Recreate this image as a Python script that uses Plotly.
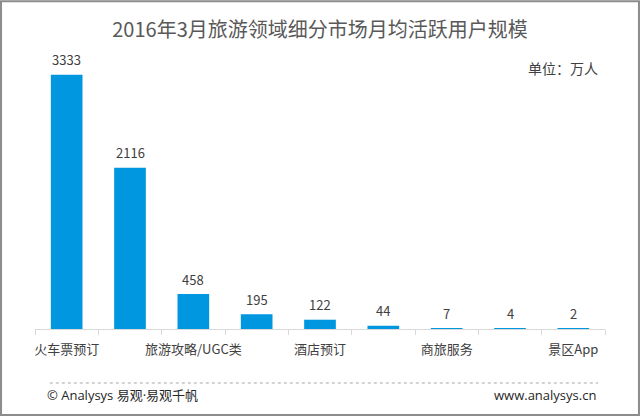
import plotly.graph_objects as go

# Дані графіка
categories = ["火车票预订", "在线旅游综合服务", "旅游攻略/UGC类", "机票预订", "酒店预订",
              "旅游度假", "商旅服务", "民宿短租", "景区App"]
users = [3333, 2116, 458, 195, 122, 44, 7, 4, 2]
shown_ticks = [0, 2, 4, 6, 8]

title_text = "2016年3月旅游领域细分市场月均活跃用户规模"
unit_text = "单位：万人"
source_text = "© Analysys 易观·易观千帆"
site_text = "www.analysys.cn"

FONT = "Noto Sans CJK SC, Microsoft YaHei, sans-serif"
FOOT_FONT = "Open Sans, Noto Sans CJK SC, sans-serif"
BAR_COLOR = "#0096E0"
TEXT_COLOR = "#404040"

x_pos = list(range(len(categories)))

fig = go.Figure()
fig.add_trace(go.Bar(x=x_pos, y=users, marker_color=BAR_COLOR,
                     marker_line_width=0, hoverinfo="skip"))

# Підписи значень над стовпчиками
for x, v in zip(x_pos, users):
    fig.add_annotation(x=x, y=v, text=str(v), showarrow=False,
                       yanchor="middle", yshift=15,
                       font=dict(family=FONT, size=13, color=TEXT_COLOR))

# Інші тексти
fig.add_annotation(xref="paper", yref="paper", x=0.991, y=0.856, text=unit_text,
                   showarrow=False, xanchor="right", yanchor="middle",
                   font=dict(family=FONT, size=14, color=TEXT_COLOR))
fig.add_annotation(xref="paper", yref="paper", x=0.0175, y=-0.216, text=source_text,
                   showarrow=False, xanchor="left", yanchor="middle",
                   font=dict(family=FOOT_FONT, size=13, color="#262626"))
fig.add_annotation(xref="paper", yref="paper", x=0.988, y=-0.216, text=site_text,
                   showarrow=False, xanchor="right", yanchor="middle",
                   font=dict(family=FOOT_FONT, size=13, color="#262626"))

# Пунктирна лінія та рамка
fig.add_shape(type="line", xref="paper", yref="paper", x0=0.026, x1=0.988,
              y0=-0.177, y1=-0.177, line=dict(color="#a6a6a6", width=1, dash="dot"))
fig.add_shape(type="rect", xref="paper", yref="paper", x0=-0.0596, x1=1.0596,
              y0=-0.282, y1=1.075, line=dict(color="#8c8c8c", width=2))

fig.update_layout(
    width=640, height=416,
    margin=dict(l=35, r=35, t=24, b=87),
    paper_bgcolor="white", plot_bgcolor="white",
    bargap=0.5, showlegend=False,
    title=dict(text=title_text, x=0.5, xref="container", xanchor="center",
               y=1 - 30 / 416, yref="container", yanchor="middle",
               font=dict(family=FONT, size=20, color="#595959")),
    xaxis=dict(range=[-0.5, len(categories) - 0.5],
               tickvals=shown_ticks, ticktext=[categories[i] for i in shown_ticks],
               ticks="", ticklabelstandoff=8,
               tickfont=dict(family=FONT, size=13, color=TEXT_COLOR),
               showline=True, linecolor="#d9d9d9", linewidth=1,
               showgrid=False, zeroline=False,
               minor=dict(ticks="outside", tick0=-0.5, dtick=1, ticklen=5,
                          tickcolor="#d9d9d9", showgrid=False)),
    yaxis=dict(range=[0, 4000], visible=False, showgrid=False, zeroline=False),
)

# Прибираємо відступ сторінки, щоб графік займав усе вікно
fig.write_html("out.html", config={"displayModeBar": False},
               post_script="document.body.style.margin='0';")
